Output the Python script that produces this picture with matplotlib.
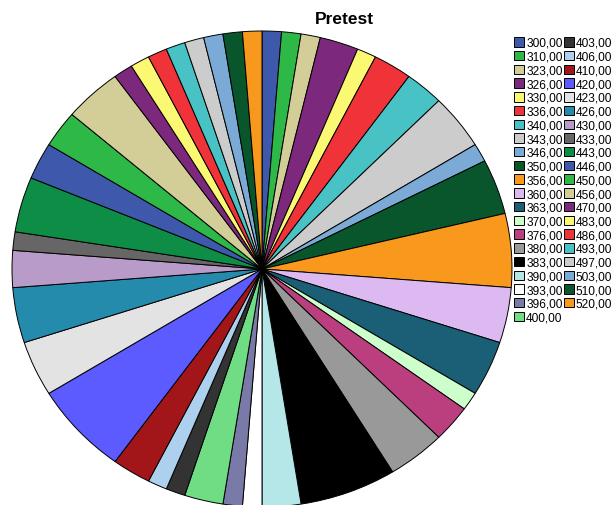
import matplotlib
matplotlib.use("Agg")
import matplotlib.pyplot as plt

categories = ["300,00", "310,00", "323,00", "326,00", "330,00", "336,00", "340,00",
              "343,00", "346,00", "350,00", "356,00", "360,00", "363,00", "370,00",
              "376,00", "380,00", "383,00", "390,00", "393,00", "396,00", "400,00",
              "403,00", "406,00", "410,00", "420,00", "423,00", "426,00", "430,00",
              "433,00", "443,00", "446,00", "450,00", "456,00", "470,00", "483,00",
              "486,00", "493,00", "497,00", "503,00", "510,00", "520,00"]
counts = [1, 1, 1, 2, 1, 2, 2, 3, 1, 3, 4, 3, 3, 1, 2, 3, 5, 2, 1, 1, 2,
          1, 1, 2, 5, 3, 3, 2, 1, 3, 2, 2, 3, 1, 1, 1, 1, 1, 1, 1, 1]
palette = ["#3E58AC", "#2EB848", "#D3CE97", "#7C287D", "#FBF873", "#EF3338",
           "#48C2C5", "#CCCCCC", "#7AAAD5", "#0A562C", "#F8981D", "#DDB9F1",
           "#1A5F76", "#CCFFCC", "#BB3F7F", "#999999", "#000000", "#B6E7E8",
           "#FFFFFF", "#797AA7", "#70DC84", "#333333", "#ACD0EE", "#A21619",
           "#5B5BFF", "#E3E3E3", "#248BAC", "#B89BC9", "#666666", "#0D8D46"]
title = "Pretest"

plt.rcParams['font.family'] = ['Liberation Sans', 'DejaVu Sans']

W, H = 616, 506
fig = plt.figure(figsize=(W / 100, H / 100), dpi=100)
cx, cy, rx, ry = 262, 270, 250, 238
ax = fig.add_axes([(cx - rx) / W, (H - cy - ry) / H, 2 * rx / W, 2 * ry / H])
colors = [palette[i % len(palette)] for i in range(len(categories))]
wedges, _ = ax.pie(counts, colors=colors, startangle=90, counterclock=False,
                   radius=1.0,
                   wedgeprops=dict(edgecolor="black", linewidth=0.7))
ax.set_aspect('auto')
ax.set_xlim(-1, 1)
ax.set_ylim(-1, 1)
ax.axis('off')

fig.text(344 / W, 1 - 20 / H, title, ha='center', va='center',
         fontsize=12.5, fontweight='bold')

fig.legend(wedges, categories, ncol=2, loc='upper left',
           bbox_to_anchor=(514 / W, 1 - 38 / H), frameon=False,
           fontsize=8.6, handlelength=0.84, handleheight=0.84,
           handletextpad=0.18, columnspacing=0.1, labelspacing=0.145,
           borderpad=0, borderaxespad=0)

fig.savefig("out.png", dpi=100)
